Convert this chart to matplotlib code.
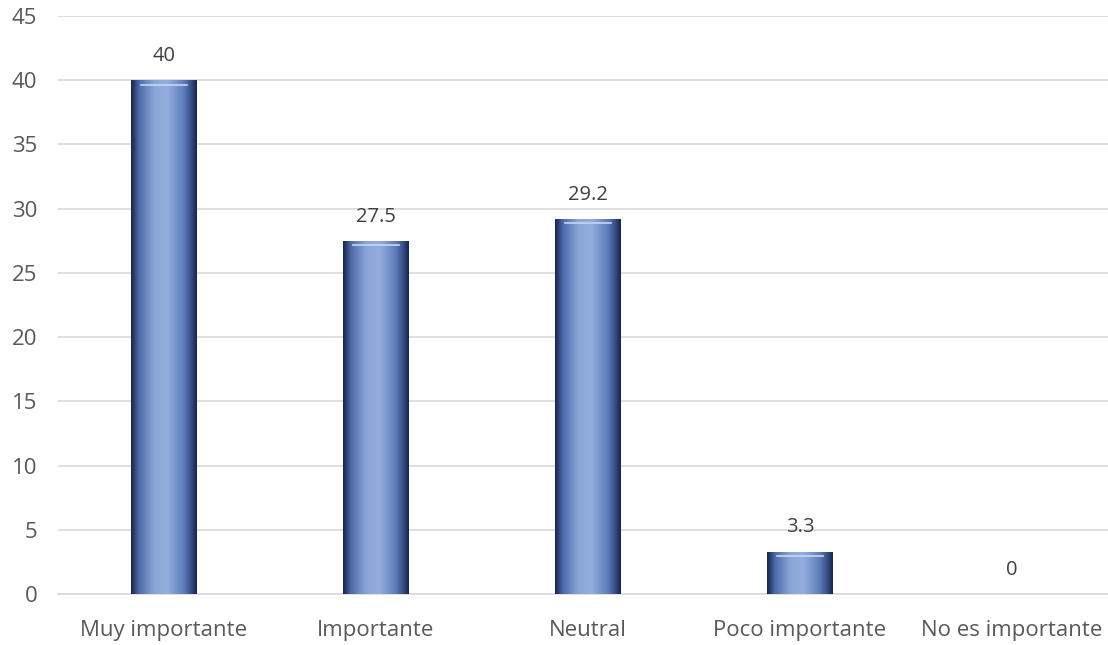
import numpy as np
import matplotlib
matplotlib.use('Agg')
import matplotlib.pyplot as plt
from matplotlib.colors import LinearSegmentedColormap

categories = ['Muy importante', 'Importante', 'Neutral', 'Poco importante', 'No es importante']
values = [40, 27.5, 29.2, 3.3, 0]
value_labels = ['40', '27.5', '29.2', '3.3', '0']
yticks = [0, 5, 10, 15, 20, 25, 30, 35, 40, 45]

plt.rcParams['font.family'] = ['Open Sans', 'DejaVu Sans']

fig = plt.figure(figsize=(11.08, 6.45), dpi=100)
ax = fig.add_axes([58 / 1108, 51 / 645, 1060 / 1108, 578 / 645])

# bar shading: thin dark edges, light middle
cmap = LinearSegmentedColormap.from_list(
    'bar', [(0, '#18254a'), (0.12, '#4d6bab'), (0.35, '#8aa5d8'), (0.55, '#94aede'),
            (0.8, '#5f7dbd'), (0.9, '#3d5590'), (1, '#18254a')])
grad = np.linspace(0, 1, 128).reshape(1, -1)

width = 0.31
bars = ax.bar(range(len(values)), values, width=width, color='#5b7bbd', zorder=2)
for b in bars:
    h = b.get_height()
    if h <= 0:
        continue
    x0 = b.get_x()
    im = ax.imshow(grad, cmap=cmap, aspect='auto', zorder=3,
                   extent=[x0, x0 + width, 0, h], interpolation='bicubic')
    im.set_clip_path(b)
    # light bevel line near the top
    ax.plot([x0 + width * 0.15, x0 + width * 0.85], [h - 0.35, h - 0.35],
            color='#c8d6f0', lw=1.2, zorder=4)

for i, (v, s) in enumerate(zip(values, value_labels)):
    ax.text(i, v + 1.1, s, ha='center', va='bottom', fontsize=14.5, color='#404040', zorder=5)

ax.set_xlim(-0.5, len(values) - 0.5)
ax.set_ylim(0, 45)
ax.set_yticks(yticks)
ax.set_xticks(range(len(categories)))
ax.set_xticklabels(categories)
ax.yaxis.grid(True, color='#d9d9d9', lw=1.2, zorder=0)
ax.set_axisbelow(True)
for sp in ['top', 'right', 'left']:
    ax.spines[sp].set_visible(False)
ax.spines['bottom'].set_color('#d9d9d9')
ax.spines['bottom'].set_linewidth(1.2)
ax.tick_params(axis='both', length=0, labelsize=16, labelcolor='#595959')
ax.tick_params(axis='x', pad=19)
ax.tick_params(axis='y', pad=15)

fig.savefig('out.png', dpi=100)
